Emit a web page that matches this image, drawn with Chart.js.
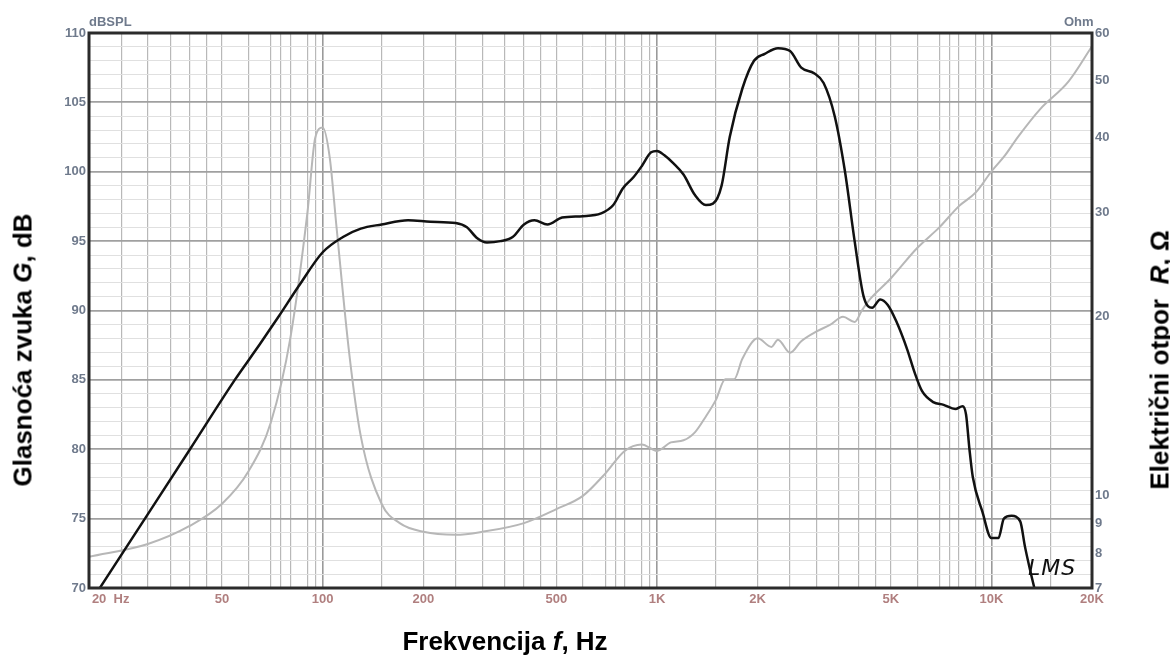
<!DOCTYPE html>
<html>
<head>
<meta charset="utf-8">
<script src="https://cdn.jsdelivr.net/npm/chart.js@4.4.0/dist/chart.umd.min.js"></script>
<style>
  body { margin: 0; background: #fff; }
  #wrap { position: relative; width: 1170px; height: 659px; overflow: hidden; }
  .lbl { position: absolute; font-family: "Liberation Sans", Arial, sans-serif; white-space: nowrap; }
  .ttl { font-weight: bold; font-size: 26px; color: #000; }
  .small { font-weight: bold; font-size: 13px; color: #6f7a8c; }
</style>
</head>
<body>
<div id="wrap">
  <canvas id="myChart" width="1170" height="659"></canvas>
  <div class="lbl small" style="left:89px; top:14px;">dBSPL</div>
  <div class="lbl small" style="left:1064px; top:14px;">Ohm</div>
  <div class="lbl ttl" style="left:23px; top:350px; transform: translate(-50%,-50%) rotate(-90deg);">Glasnoća zvuka <i>G</i>, dB</div>
  <div class="lbl ttl" style="left:1160px; top:360px; transform: translate(-50%,-50%) rotate(-90deg);">Električni otpor&nbsp; <i>R</i>, Ω</div>
  <div class="lbl ttl" style="left:505px; top:641px; transform: translate(-50%,-50%);">Frekvencija <i>f</i>, Hz</div>
  <div class="lbl" style="left:1028px; top:555px; font-family:'DejaVu Sans', sans-serif; font-style:italic; font-size:22px; color:#111; letter-spacing:1px;">LMS</div>
</div>
<script>
// SPL-kurva (crna)
const splFreq = [20, 29.4, 40.1, 54.6, 65, 74, 85, 100, 115, 130, 150, 180, 210, 250, 270, 290, 310, 340, 370, 400, 430, 470, 520, 600, 680, 740, 790, 850, 900, 960, 1000, 1050, 1120, 1200, 1300, 1400, 1470, 1560, 1650, 1800, 1950, 2100, 2300, 2500, 2700, 2950, 3150, 3400, 3650, 3900, 4150, 4400, 4650, 4900, 5200, 5600, 5900, 6200, 6700, 7200, 7800, 8200, 8400, 8600, 8800, 9400, 10000, 10500, 10900, 11500, 12200, 12600, 13000, 13600];
const splDb = [68.8, 75, 80, 85, 87.6, 89.6, 91.8, 94.2, 95.3, 95.9, 96.2, 96.5, 96.4, 96.3, 96, 95.2, 94.9, 95, 95.3, 96.2, 96.5, 96.2, 96.7, 96.8, 97, 97.6, 98.8, 99.6, 100.4, 101.4, 101.5, 101.2, 100.6, 99.8, 98.3, 97.6, 97.7, 99, 102.5, 106, 108, 108.5, 108.9, 108.7, 107.5, 107.1, 106.4, 104, 100, 95, 91, 90.2, 90.8, 90.4, 89.2, 87.2, 85.5, 84.2, 83.4, 83.2, 82.9, 83.1, 82.5, 80, 78, 75.5, 73.6, 73.6, 75, 75.2, 74.8, 73, 71.5, 69.5];

// impedancija (siva)
const impFreq = [20, 30, 40, 50, 60, 70, 80, 90, 95, 100, 105, 110, 120, 130, 150, 170, 200, 250, 300, 400, 500, 600, 700, 800, 900, 1000, 1100, 1200, 1300, 1400, 1500, 1600, 1700, 1800, 2000, 2200, 2300, 2500, 2700, 3000, 3300, 3600, 3900, 4100, 4300, 5000, 6000, 7000, 8000, 9000, 10000, 11000, 12000, 14000, 17000, 20000];
const impOhm = [7.9, 8.3, 8.9, 9.7, 11.0, 13.3, 18.4, 29.9, 40, 41.6, 37, 28.3, 17.4, 12.6, 9.7, 9.0, 8.7, 8.6, 8.7, 9.0, 9.5, 10.0, 10.9, 11.9, 12.2, 11.9, 12.3, 12.4, 12.8, 13.6, 14.5, 15.7, 15.7, 17.0, 18.4, 17.8, 18.3, 17.4, 18.2, 18.9, 19.4, 20.0, 19.6, 20.5, 21.3, 23.2, 26.1, 28.3, 30.7, 32.4, 35.1, 37.4, 40.1, 44.7, 49.7, 57];

// mreza i oznake
const freqGrid = [20, 25, 30, 35, 40, 45, 50, 60, 70, 75, 80, 90, 95, 100, 150, 200, 250, 300, 350, 400, 450, 500, 600, 700, 750, 800, 900, 950, 1000, 1500, 2000, 2500, 3000, 3500, 4000, 4500, 5000, 6000, 7000, 7500, 8000, 9000, 9500, 10000, 15000, 20000];
const freqLabels = { 20: '            20  Hz', 50: '50', 100: '100', 200: '200', 500: '500', 1000: '1K', 2000: '2K', 5000: '5K', 10000: '10K', 20000: '20K' };
const ohmTicks = [7, 8, 9, 10, 20, 30, 40, 50, 60];

const FONT = { family: '"Liberation Sans", Arial, sans-serif', size: 13, weight: 'bold' };

const frame = {
    id: 'frame',
    afterDraw(chart) {
        const a = chart.chartArea, ctx = chart.ctx;
        ctx.save();
        ctx.strokeStyle = '#2b2b2b';
        ctx.lineWidth = 3;
        ctx.strokeRect(a.left, a.top, a.right - a.left, a.bottom - a.top);
        ctx.restore();
    }
};

const config = {
    type: 'line',
    data: {
        datasets: [{
            label: 'SPL',
            data: splFreq.map((f, i) => ({ x: f, y: splDb[i] })),
            yAxisID: 'y',
            borderColor: '#111',
            borderWidth: 2.5,
            pointRadius: 0,
            cubicInterpolationMode: 'monotone'
        }, {
            label: 'Impedancija',
            data: impFreq.map((f, i) => ({ x: f, y: impOhm[i] })),
            yAxisID: 'y2',
            borderColor: '#b7b7b7',
            borderWidth: 2,
            pointRadius: 0,
            cubicInterpolationMode: 'monotone'
        }]
    },
    options: {
        responsive: false,
        devicePixelRatio: 1,
        animation: false,
        layout: { padding: { top: 33, left: 0, right: 0, bottom: 0 } },
        plugins: { legend: { display: false }, tooltip: { enabled: false } },
        scales: {
            x: {
                type: 'logarithmic',
                min: 20, max: 20000,
                afterBuildTicks: s => { s.ticks = freqGrid.map(v => ({ value: v })); },
                afterFit: s => { s.height = 71; },
                ticks: {
                    autoSkip: false, maxRotation: 0, padding: 4,
                    color: '#b07f7f', font: FONT,
                    callback: v => freqLabels[v] || ''
                },
                grid: {
                    tickLength: 0,
                    color: c => [100, 1000, 10000].includes(c.tick && c.tick.value) ? '#9a9a9a' : '#b8b8b8',
                    lineWidth: c => [100, 1000, 10000].includes(c.tick && c.tick.value) ? 1.6 : 1.2
                },
                border: { display: false }
            },
            y: {
                min: 70, max: 110,
                afterFit: s => { s.width = 89; },
                ticks: {
                    stepSize: 1, maxTicksLimit: 100, autoSkip: false, padding: 3,
                    color: '#6f7a8c', font: FONT,
                    callback: v => v % 5 === 0 ? v : ''
                },
                grid: {
                    tickLength: 0,
                    color: c => c.tick.value % 5 === 0 ? '#a0a0a0' : '#e0e0e0',
                    lineWidth: c => c.tick.value % 5 === 0 ? 1.8 : 1
                },
                border: { display: false }
            },
            y2: {
                type: 'logarithmic',
                position: 'right',
                min: 7, max: 60,
                afterBuildTicks: s => { s.ticks = ohmTicks.map(v => ({ value: v })); },
                afterFit: s => { s.width = 78; },
                ticks: {
                    autoSkip: false, padding: 3,
                    color: '#6f7a8c', font: FONT,
                    callback: v => ohmTicks.includes(v) ? String(v) : ''
                },
                grid: { drawOnChartArea: false, tickLength: 0 },
                border: { display: false }
            }
        }
    },
    plugins: [frame]
};

const myChart = new Chart(document.getElementById('myChart'), config);
</script>
</body>
</html>
